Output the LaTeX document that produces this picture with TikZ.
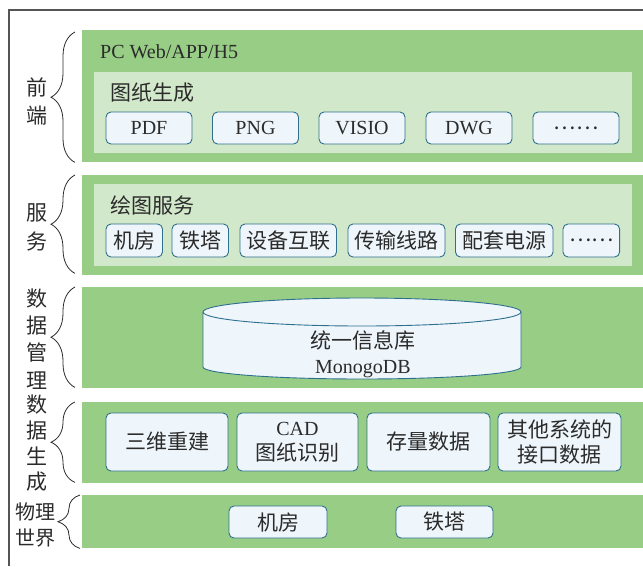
\documentclass[tikz,border=0pt]{standalone}
\usepackage{fontspec}
\setmainfont{Liberation Serif}
\newfontfamily\cjk{Noto Sans CJK SC}
\usetikzlibrary{decorations.pathreplacing,calc}
\definecolor{bandgreen}{HTML}{98CD86}
\definecolor{innergreen}{HTML}{D2E8CA}
\definecolor{boxfill}{HTML}{EEF6FC}
\definecolor{boxline}{HTML}{2E6F8E}
\definecolor{txt}{HTML}{2B2B2B}
\definecolor{framecol}{HTML}{555555}
\tikzset{
  band/.style={fill=bandgreen, inner sep=0pt, anchor=north west},
  innerband/.style={fill=innergreen, inner sep=0pt, anchor=north west},
  box/.style={draw=boxline, fill=boxfill, rounded corners=5pt, line width=0.9pt, inner sep=0pt, text=txt, align=center},
  zh/.style={font=\cjk\fontsize{21}{25}\selectfont},
  lat/.style={font=\fontsize{20}{25}\selectfont},
  title/.style={inner sep=0pt, anchor=west, text=txt},
  brc/.style={draw=txt, line width=0.8pt, decorate, decoration={brace, amplitude=24pt}},
  lbl/.style={inner sep=0pt, align=center, text=txt},
}
\begin{document}
\begin{tikzpicture}[x=1pt,y=-1pt]
\useasboundingbox (0,0) rectangle (643,566);
% frame
\draw[framecol, line width=1.3pt] (9,566) -- (9,10) -- (643,10);

% bands
\node[band, minimum width=561, minimum height=132] (b1) at (82,30) {};
\node[innerband, minimum width=538, minimum height=81] (i1) at (94,72) {};
\node[band, minimum width=561, minimum height=100] (b2) at (82,175) {};
\node[innerband, minimum width=538, minimum height=82] (i2) at (94,184) {};
\node[band, minimum width=561, minimum height=101] (b3) at (82,287) {};
\node[band, minimum width=561, minimum height=81] (b4) at (82,402) {};
\node[band, minimum width=561, minimum height=53] (b5) at (82,495) {};

% titles
\node[title, lat] (t1) at (100,52) {PC Web/APP/H5};
\node[title, zh] (t2) at (110,93) {图纸生成};
\node[title, zh] (t3) at (110,205) {绘图服务};

% row 1
\node[box, lat, minimum width=86, minimum height=32] (pdf) at (149,128) {PDF};
\node[box, lat, minimum width=86, minimum height=32] (png) at (255.5,128) {PNG};
\node[box, lat, minimum width=86, minimum height=32] (visio) at (362,128) {VISIO};
\node[box, lat, minimum width=86, minimum height=32] (dwg) at (469,128) {DWG};
\node[box, zh, minimum width=86, minimum height=32] (more1) at (576,128) {……};

% row 2
\node[box, zh, minimum width=56.5, minimum height=33] (s1) at (134.25,240.5) {机房};
\node[box, zh, minimum width=56.5, minimum height=33] (s2) at (200.25,240.5) {铁塔};
\node[box, zh, minimum width=96.5, minimum height=33] (s3) at (288.25,240.5) {设备互联};
\node[box, zh, minimum width=97, minimum height=33] (s4) at (396.5,240.5) {传输线路};
\node[box, zh, minimum width=97.5, minimum height=33] (s5) at (504.25,240.5) {配套电源};
\node[box, zh, minimum width=56.6, minimum height=33] (s6) at (591.3,240.5) {……};

% cylinder
\fill[boxfill] (203,312) -- (203,367) arc[start angle=180, end angle=360, x radius=159pt, y radius=12pt] -- (521,312) arc[start angle=0, end angle=180, x radius=159pt, y radius=14pt] -- cycle;
\draw[boxline, line width=0.9pt] (203,312) -- (203,367) arc[start angle=180, end angle=360, x radius=159pt, y radius=12pt] -- (521,312);
\draw[boxline, line width=0.9pt] (362,312) ellipse [x radius=159pt, y radius=14pt];
\node[lbl, font=\fontsize{20}{25}\selectfont] (db) at (363,354) {{\cjk\fontsize{21}{25}\selectfont 统一信息库}\\MonogoDB};

% row 4
\node[box, zh, minimum width=122, minimum height=58] (g1) at (167,442) {三维重建};
\node[box, lat, minimum width=121, minimum height=58] (g2) at (297.5,442) {CAD\\{\cjk\fontsize{21}{25}\selectfont 图纸识别}};
\node[box, zh, minimum width=123, minimum height=58] (g3) at (428.5,442) {存量数据};
\node[box, zh, minimum width=123, minimum height=58] (g4) at (559.5,442) {其他系统的\\接口数据};

% row 5
\node[box, zh, minimum width=98, minimum height=32] (p1) at (278,522) {机房};
\node[box, zh, minimum width=97, minimum height=32] (p2) at (444.5,522) {铁塔};

% braces
\draw[brc] ($(b1.south west)+(-7,0)$) -- ($(b1.north west)+(-7,2)$);
\draw[brc] ($(b2.south west)+(-7,-2)$) -- ($(b2.north west)+(-7,0)$);
\draw[brc] ($(b3.south west)+(-7,-1)$) -- ($(b3.north west)+(-7,0)$);
\draw[brc] ($(b4.south west)+(-7,-1)$) -- ($(b4.north west)+(-7,0)$);
\draw[brc, decoration={brace, amplitude=22pt}] ($(b5.south west)+(-2,0)$) -- ($(b5.north west)+(-2,0)$);

% side labels
\node[lbl, font=\cjk\fontsize{21}{28}\selectfont] (l1) at (37,101) {前\\端};
\node[lbl, font=\cjk\fontsize{21}{29}\selectfont] (l2) at (37,227.5) {服\\务};
\node[lbl, font=\cjk\fontsize{21}{27.3}\selectfont] (l3) at (37,339) {数\\据\\管\\理};
\node[lbl, font=\cjk\fontsize{21}{25.7}\selectfont] (l4) at (37,443.5) {数\\据\\生\\成};
\node[lbl, font=\cjk\fontsize{20}{26}\selectfont] (l5) at (36,525) {物理\\世界};
\end{tikzpicture}
\end{document}
